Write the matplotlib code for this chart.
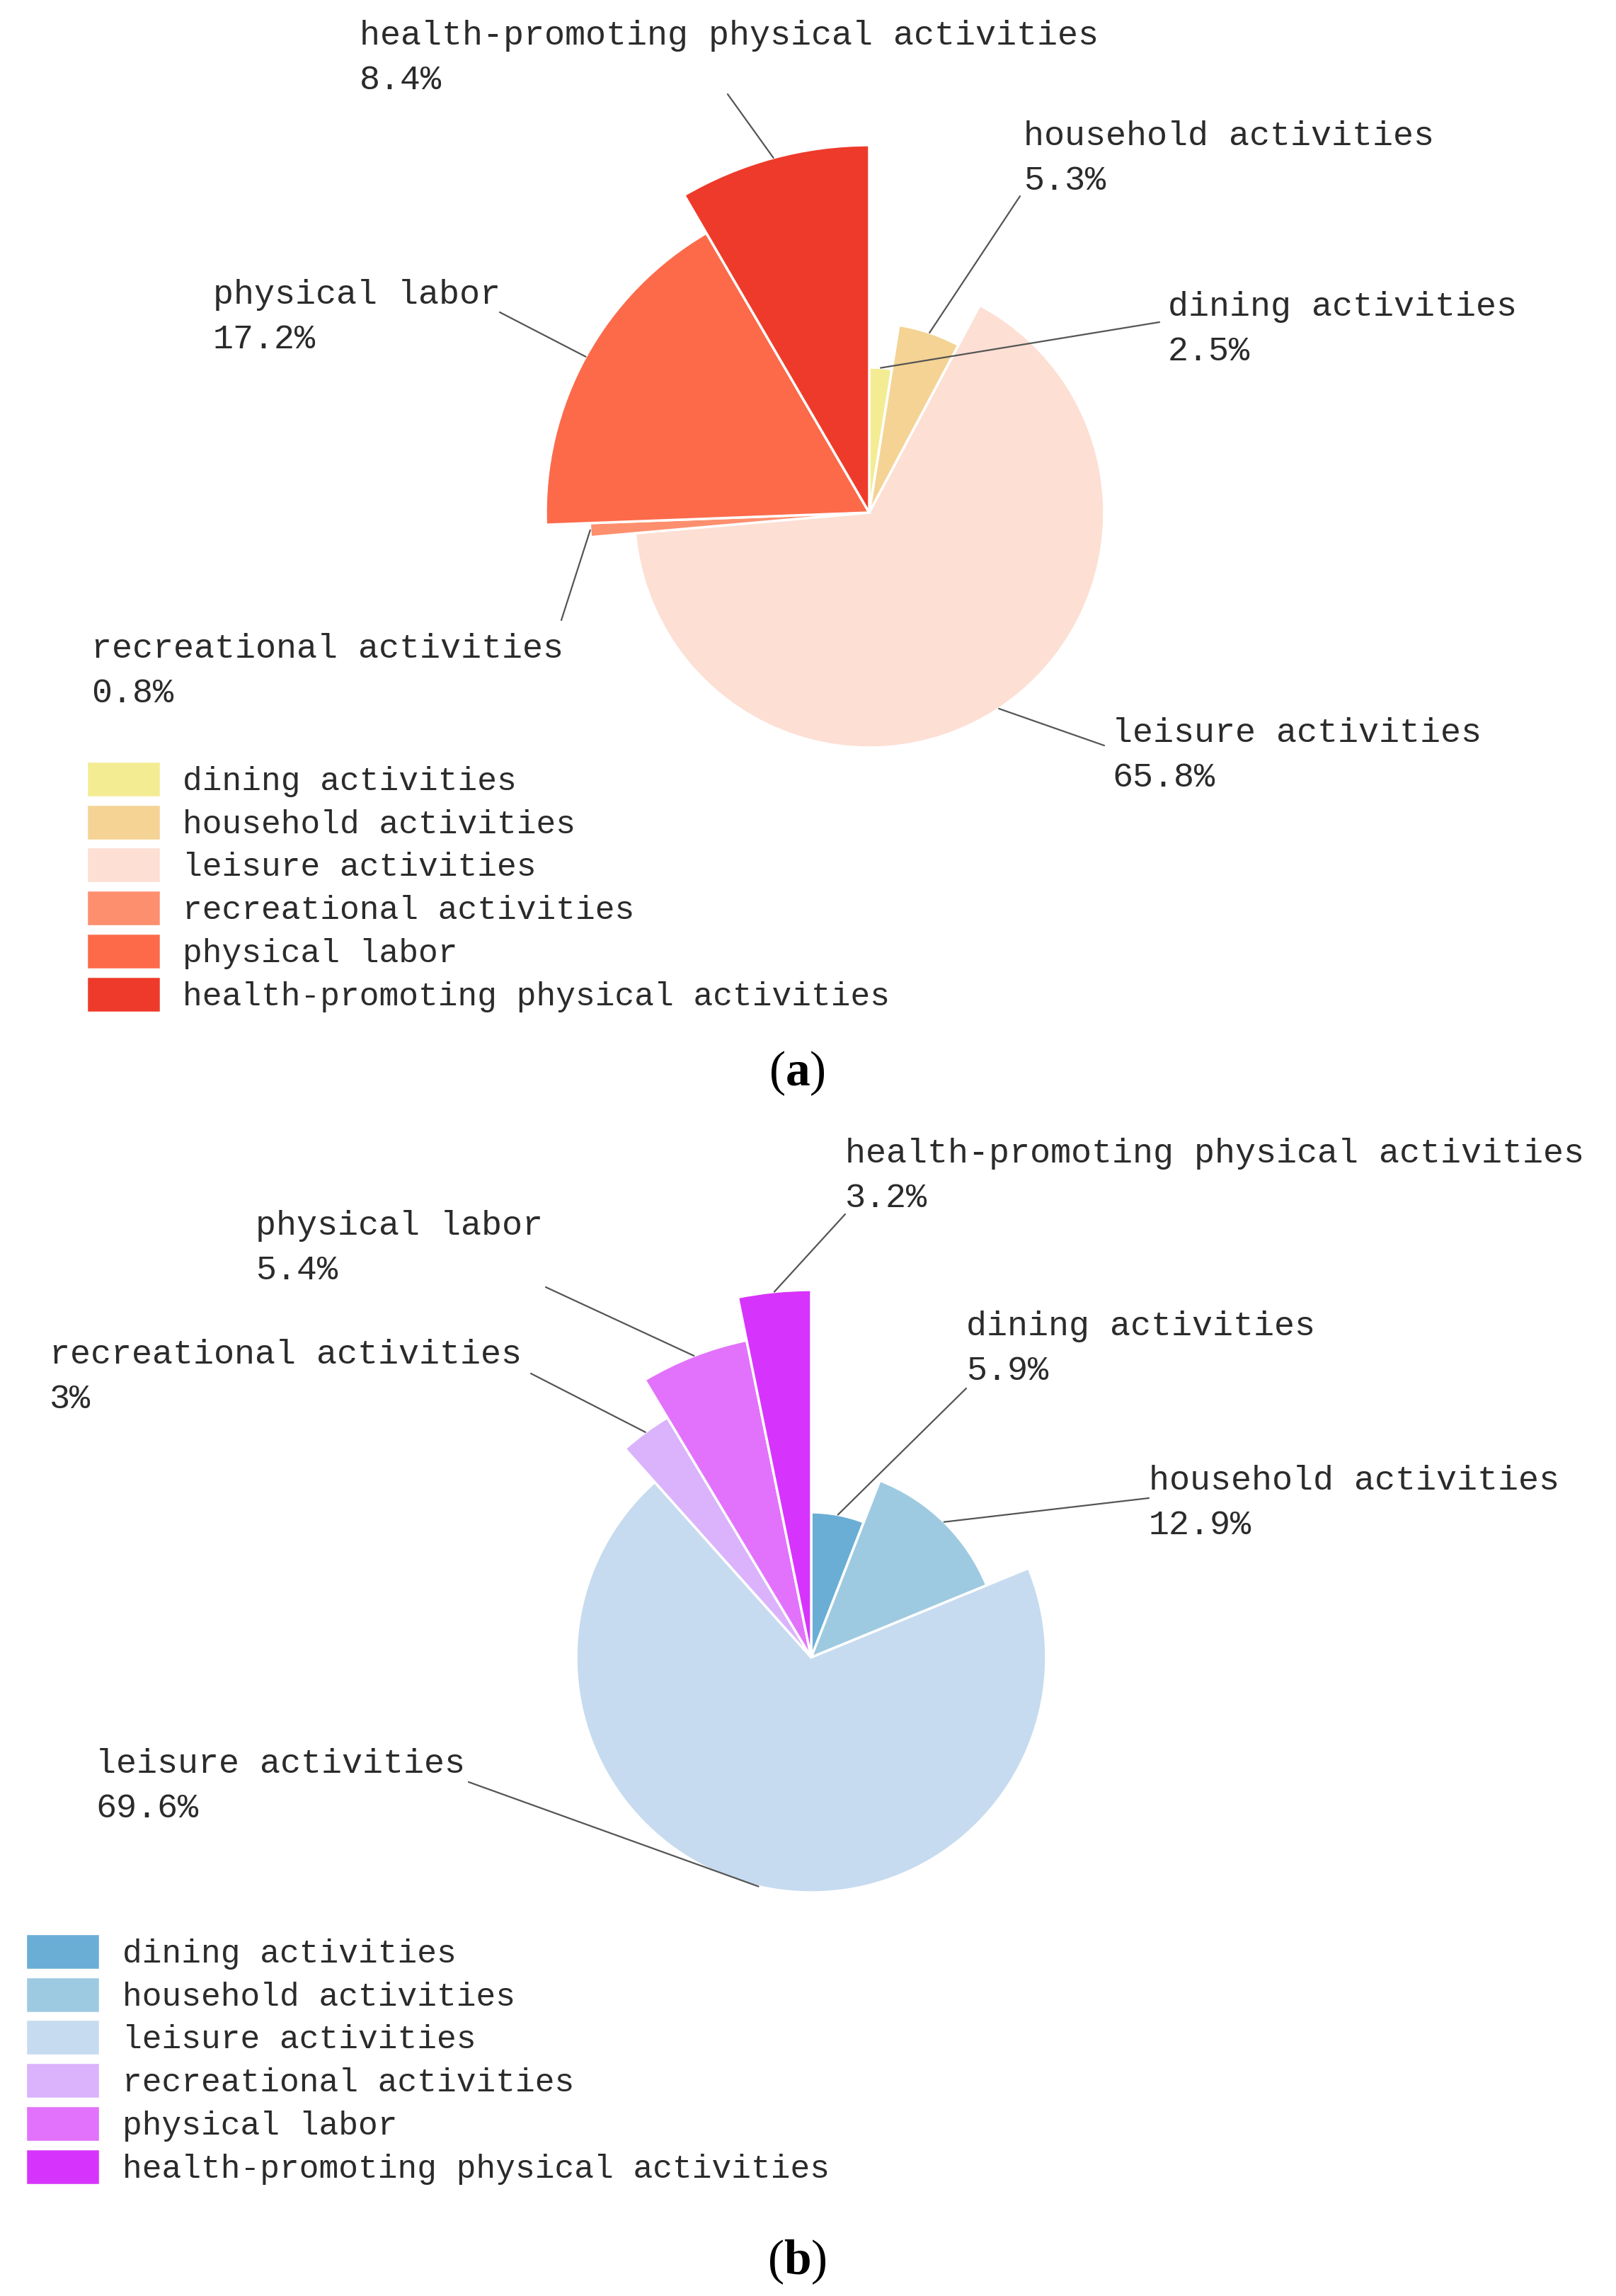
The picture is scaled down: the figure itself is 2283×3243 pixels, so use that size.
import numpy as np
import matplotlib
matplotlib.use("Agg")
import matplotlib.pyplot as plt
from matplotlib.patches import ConnectionPatch

# activity categories (same order in both panels)
categories = ["dining activities", "household activities", "leisure activities",
              "recreational activities", "physical labor",
              "health-promoting physical activities"]

# shares in percent
values_a = [2.5, 5.3, 65.8, 0.8, 17.2, 8.4]
values_b = [5.9, 12.9, 69.6, 3.0, 5.4, 3.2]
value_text_a = ["2.5%", "5.3%", "65.8%", "0.8%", "17.2%", "8.4%"]
value_text_b = ["5.9%", "12.9%", "69.6%", "3%", "5.4%", "3.2%"]

colors_a = ["#f3ec93", "#f4d394", "#fddfd4", "#fd8f6e", "#fc6a4a", "#ee3a2a"]
colors_b = ["#6aaed6", "#9ecae1", "#c6dbef", "#dab3fc", "#e272fb", "#d634fc"]

W, H = 2283, 3243
FONT = "Liberation Mono"
FS = 34.8          # slice labels
FS_LEG = 33.3      # legend entries
TEXT_COLOR = "#2b2b2b"
LINE_COLOR = "#555555"

# radius of each sector in pixels (rose style: grows with position)
radii = [205, 268, 332, 395, 457, 519]
R_MAX = 540

fig = plt.figure(figsize=(W / 100, H / 100), dpi=100)
plt.rcParams["mathtext.fontset"] = "custom"
plt.rcParams["mathtext.bf"] = "Liberation Serif:bold"
plt.rcParams["mathtext.rm"] = "Liberation Serif"


def fx(x):
    return x / W


def fy(y):
    return 1 - y / H


def rose(center, values, colors):
    cx, cy = center
    ax = fig.add_axes([fx(cx - R_MAX), fy(cy + R_MAX), 2 * R_MAX / W, 2 * R_MAX / H],
                      projection="polar")
    ax.set_theta_zero_location("N")
    ax.set_theta_direction(-1)
    ax.set_ylim(0, R_MAX)
    ax.set_axis_off()

    vals = np.array(values, dtype=float)
    widths = vals / vals.sum() * 2 * np.pi
    starts = np.concatenate([[0], np.cumsum(widths)[:-1]])
    bars = ax.bar(starts, radii, width=widths, align="edge", color=colors,
                  edgecolor="white", linewidth=2.5)
    return ax, bars, starts + widths / 2


def labels(ax, mids, value_text, label_pos, line_end):
    for i, name in enumerate(categories):
        tx, ty = label_pos[i]
        fig.text(fx(tx), fy(ty), name, family=FONT, fontsize=FS,
                 color=TEXT_COLOR, va="baseline", ha="left")
        fig.text(fx(tx), fy(ty + 63), value_text[i], family=FONT, fontsize=FS,
                 color=TEXT_COLOR, va="baseline", ha="left")
        ex, ey = line_end[i]
        con = ConnectionPatch(xyA=(mids[i], radii[i]), coordsA=ax.transData,
                              xyB=(fx(ex), fy(ey)), coordsB="figure fraction",
                              color=LINE_COLOR, linewidth=1.6)
        fig.add_artist(con)


def legend(bars, x, y, pad):
    fig.legend(list(bars), categories, loc="upper left",
               bbox_to_anchor=(fx(x), fy(y)), bbox_transform=fig.transFigure,
               frameon=False, prop={"family": FONT, "size": FS_LEG},
               handlelength=2.27, handleheight=1.32, labelspacing=0.21,
               handletextpad=pad, borderpad=0, borderaxespad=0,
               labelcolor=TEXT_COLOR)


def caption(letter, x, y):
    fig.text(fx(x), fy(y), "(" + r"$\mathbf{" + letter + "}$" + ")",
             family="Liberation Serif", fontsize=50, ha="center",
             va="baseline", color="black")


# ---- panel (a) ----
ax_a, bars_a, mids_a = rose((1228, 724), values_a, colors_a)
label_pos_a = [(1650, 446), (1446, 205), (1571, 1048),
               (129, 929), (301, 429), (508, 63)]
line_end_a = [(1638, 455), (1441, 277), (1560, 1053),
              (793, 876), (706, 441), (1028, 133)]
labels(ax_a, mids_a, value_text_a, label_pos_a, line_end_a)
legend(bars_a, 122, 1075, 0.66)
caption("a", 1126, 1533)

# ---- panel (b) ----
ax_b, bars_b, mids_b = rose((1146, 2341), values_b, colors_b)
label_pos_b = [(1365, 1886), (1623, 2104), (135, 2504),
               (70, 1926), (361, 1744), (1194, 1642)]
line_end_b = [(1365, 1961), (1623, 2116), (662, 2517),
              (750, 1940), (771, 1818), (1194, 1715)]
labels(ax_b, mids_b, value_text_b, label_pos_b, line_end_b)
legend(bars_b, 36, 2731, 0.70)
caption("b", 1126, 3212)

fig.savefig("out.png", dpi=100)
